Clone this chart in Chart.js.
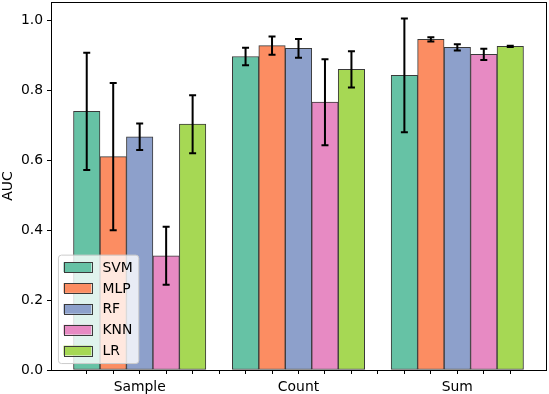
<!DOCTYPE html>
<html lang="en">
<head>
<meta charset="UTF-8">
<title>AUC by feature and model</title>
<script src="https://cdn.jsdelivr.net/npm/chart.js"></script>
<style>
  body { margin: 0; background: #fff; }
  #wrap { width: 549px; height: 394px; }
</style>
</head>
<body>
<div id="wrap"><canvas id="aucChart" width="549" height="394"></canvas></div>
<script>
const groups = ['Sample', 'Count', 'Sum'];
const models = ['SVM', 'MLP', 'RF', 'KNN', 'LR'];
const colors = ['#66c2a5', '#fc8d62', '#8da0cb', '#e78ac3', '#a6d854'];

// mean AUC for Sample, Count, Sum
const svmAuc = [0.741, 0.898, 0.844];
const mlpAuc = [0.611, 0.929, 0.947];
const rfAuc  = [0.668, 0.921, 0.924];
const knnAuc = [0.327, 0.767, 0.904];
const lrAuc  = [0.704, 0.861, 0.927];

// std (error bar half length)
const svmStd = [0.168, 0.025, 0.163];
const mlpStd = [0.211, 0.026, 0.006];
const rfStd  = [0.038, 0.027, 0.009];
const knnStd = [0.083, 0.123, 0.016];
const lrStd  = [0.083, 0.052, 0.002];

const yTicks = [0, 0.2, 0.4, 0.6, 0.8, 1.0];

const aucs = [svmAuc, mlpAuc, rfAuc, knnAuc, lrAuc];
const stds = [svmStd, mlpStd, rfStd, knnStd, lrStd];

const FONT = { family: 'DejaVu Sans', size: 13.9 };

// one empty slot between groups, like the matplotlib layout
const perGroup = models.length + 1;
const nSlots = groups.length * perGroup - 1;
const slots = [];
for (let i = 0; i < nSlots; i++) slots.push(i);
const pad = 0.05 * nSlots;

const datasets = models.map((name, m) => ({
    label: name,
    data: groups.map((g, gi) => ({ x: gi * perGroup + m, y: aucs[m][gi] })),
    errors: stds[m],
    backgroundColor: colors[m],
    borderColor: '#3a3a3a',
    borderWidth: 1,
    borderSkipped: false,
    grouped: false,
    barPercentage: 1,
    categoryPercentage: 1
}));

const errorBars = {
    id: 'errorBars',
    afterDatasetsDraw(chart) {
        const ctx = chart.ctx;
        const y = chart.scales.y;
        ctx.save();
        ctx.strokeStyle = '#000';
        ctx.lineWidth = 2;
        chart.data.datasets.forEach((ds, i) => {
            chart.getDatasetMeta(i).data.forEach((bar, j) => {
                const v = ds.data[j].y, e = ds.errors[j];
                const top = y.getPixelForValue(v + e);
                const bot = y.getPixelForValue(v - e);
                ctx.beginPath();
                ctx.moveTo(bar.x, top); ctx.lineTo(bar.x, bot);
                ctx.moveTo(bar.x - 3.5, top); ctx.lineTo(bar.x + 3.5, top);
                ctx.moveTo(bar.x - 3.5, bot); ctx.lineTo(bar.x + 3.5, bot);
                ctx.stroke();
            });
        });
        ctx.restore();
    }
};

const frameAndLegend = {
    id: 'frameAndLegend',
    afterDraw(chart) {
        const ctx = chart.ctx;
        const a = chart.chartArea;
        ctx.save();
        // box around the plot
        ctx.strokeStyle = '#000';
        ctx.lineWidth = 1;
        ctx.strokeRect(Math.round(a.left) + 0.5, Math.round(a.top) + 0.5,
            Math.round(a.right - a.left), Math.round(a.bottom - a.top));

        // legend, lower left
        const fs = FONT.size;
        ctx.font = fs + 'px "DejaVu Sans"';
        const textW = Math.max(...models.map(t => ctx.measureText(t).width));
        const bpad = 0.4 * fs, hw = 2 * fs, hh = 0.7 * fs, gap = 0.8 * fs, rowH = 1.5 * fs;
        const w = bpad * 2 + hw + gap + textW;
        const h = bpad * 2 + models.length * fs + (models.length - 1) * 0.5 * fs;
        const x0 = a.left + 0.5 * fs;
        const y0 = a.bottom - 0.5 * fs - h;
        ctx.beginPath();
        ctx.roundRect(x0 + 0.5, y0 + 0.5, w, h, 3);
        ctx.fillStyle = 'rgba(255,255,255,0.8)';
        ctx.fill();
        ctx.strokeStyle = '#cccccc';
        ctx.stroke();
        ctx.textBaseline = 'middle';
        models.forEach((name, m) => {
            const cy = y0 + bpad + fs / 2 + m * rowH;
            ctx.fillStyle = colors[m];
            ctx.fillRect(x0 + bpad, cy - hh / 2, hw, hh);
            ctx.strokeStyle = '#3a3a3a';
            ctx.strokeRect(Math.round(x0 + bpad) + 0.5, Math.round(cy - hh / 2) + 0.5, Math.round(hw), Math.round(hh));
            ctx.fillStyle = '#000';
            ctx.fillText(name, x0 + bpad + hw + gap, cy + 1);
        });
        ctx.restore();
    }
};

new Chart(document.getElementById('aucChart'), {
    type: 'bar',
    data: { datasets: datasets },
    options: {
        responsive: false,
        animation: false,
        layout: { padding: { left: 0, right: 3, top: 2, bottom: 0 } },
        plugins: { legend: { display: false }, tooltip: { enabled: false } },
        scales: {
            x: {
                type: 'linear',
                offset: false,
                min: -0.5 - pad,
                max: nSlots - 0.5 + pad,
                afterBuildTicks: axis => { axis.ticks = slots.map(v => ({ value: v })); },
                afterFit: axis => {
                    axis.height = 24;
                    axis.paddingLeft = 0;
                    axis.paddingRight = 0;
                },
                grid: { offset: false, drawOnChartArea: false, drawTicks: true, tickLength: 4, color: '#000' },
                border: { display: false },
                ticks: {
                    autoSkip: false,
                    maxRotation: 0,
                    padding: 5,
                    color: '#000',
                    font: FONT,
                    callback: v => (v % perGroup === 2 ? groups[(v - 2) / perGroup] : '')
                }
            },
            y: {
                min: 0,
                max: 1.054,
                afterBuildTicks: axis => { axis.ticks = yTicks.map(v => ({ value: v })); },
                afterFit: axis => {
                    axis.width = 51;
                    axis.paddingTop = 0;
                    axis.paddingBottom = 0;
                },
                grid: { drawOnChartArea: false, drawTicks: true, tickLength: 4, color: '#000' },
                border: { display: false },
                title: {
                    display: true,
                    text: 'AUC',
                    color: '#000',
                    font: FONT,
                    padding: { top: 0, bottom: 0 }
                },
                ticks: {
                    padding: 4,
                    color: '#000',
                    font: FONT,
                    callback: v => v.toFixed(1)
                }
            }
        }
    },
    plugins: [errorBars, frameAndLegend]
});
</script>
</body>
</html>
